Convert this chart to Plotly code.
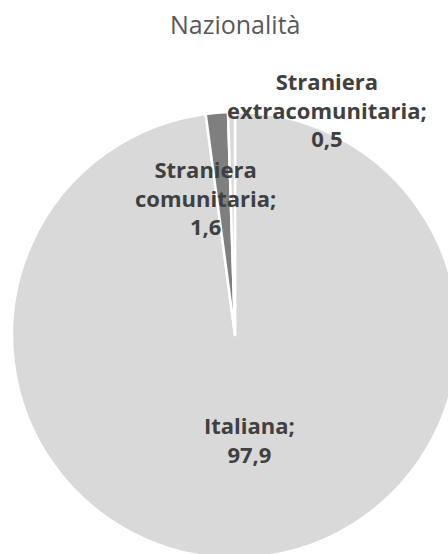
import plotly.graph_objects as go

# Data
categories = ["Italiana", "Straniera comunitaria", "Straniera extracomunitaria"]
values = [97.9, 1.6, 0.5]
label_lines = [["Italiana;"], ["Straniera", "comunitaria;"], ["Straniera", "extracomunitaria;"]]
colors = ["#d9d9d9", "#7f7f7f", "#d9d9d9"]
title_text = "Nazionalità"

W, H = 470, 560

def px(x):
    return x / W

def py(y):
    return 1 - y / H

fig = go.Figure()
fig.add_trace(go.Pie(
    labels=categories,
    values=values,
    sort=False,
    direction="clockwise",
    rotation=0,
    marker=dict(colors=colors, line=dict(color="white", width=2.5)),
    textinfo="none",
    hoverinfo="label+value",
    showlegend=False,
    domain=dict(x=[px(12), px(458)], y=[py(558), py(112)]),
))

def fmt(v):
    return f"{v:.1f}".replace(".", ",")

label_pos = [(249, 439), (205, 197), (327, 110)]
for lines, v, (lx, ly) in zip(label_lines, values, label_pos):
    fig.add_annotation(
        x=px(lx), y=py(ly), xref="paper", yref="paper",
        text="<b>" + "<br>".join(lines + [fmt(v)]) + "</b>",
        showarrow=False, xanchor="center", yanchor="middle",
        font=dict(family="Open Sans", size=22, color="#404040"),
        align="center",
    )

fig.add_annotation(
    x=px(235), y=py(24), xref="paper", yref="paper",
    text=title_text, showarrow=False, xanchor="center", yanchor="middle",
    font=dict(family="Open Sans", size=25, color="#595959"),
)

fig.update_layout(
    width=W, height=H,
    margin=dict(l=0, r=0, t=0, b=0),
    paper_bgcolor="white", plot_bgcolor="white",
)

fig.write_html(
    "out.html",
    config={"displayModeBar": False},
    post_script="document.body.style.margin='0';document.body.style.overflow='hidden';",
)
